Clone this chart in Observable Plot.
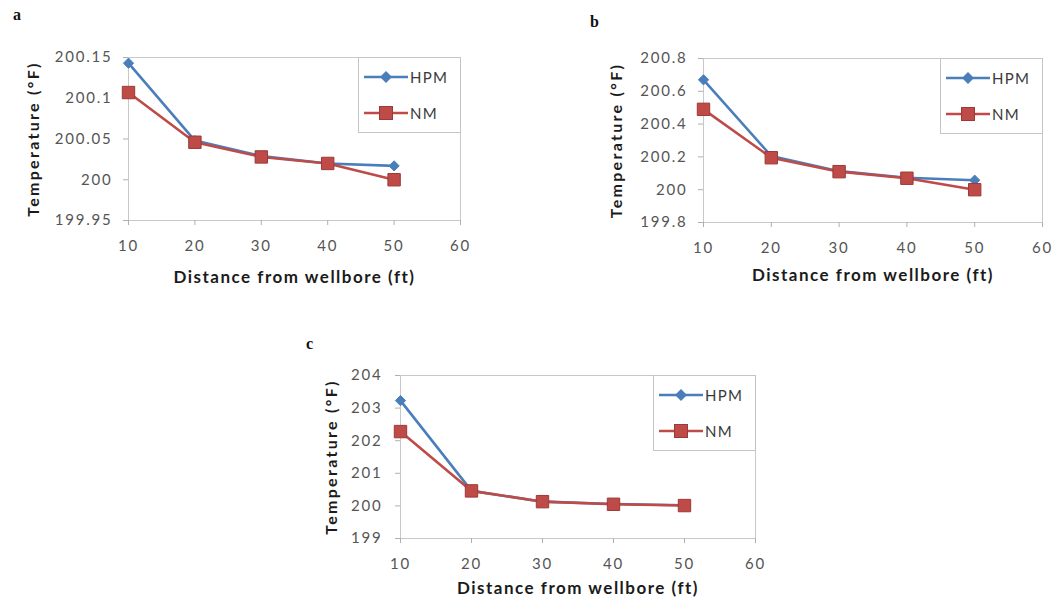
<!DOCTYPE html>
<html><head><meta charset="utf-8">
<script src="https://cdn.jsdelivr.net/npm/d3@7"></script>
<script src="https://cdn.jsdelivr.net/npm/@observablehq/plot@0.6"></script>
<style>
body{margin:0;background:#fff;}
#root{position:relative;width:1059px;height:599px;overflow:hidden;font-family:Lato,sans-serif;background:#fff;}
.panel{position:absolute;}
.letter{position:absolute;font-family:"Liberation Serif",serif;font-weight:bold;font-size:16px;color:#111;line-height:1;}
.legend{position:absolute;border:1px solid #c4c4c4;background:#fff;box-sizing:border-box;}
.legend .row{position:absolute;left:5px;display:flex;align-items:center;font-size:15px;color:#3a3a3a;letter-spacing:1.3px;line-height:1;}
.legend svg{display:block;margin-right:2px;}
</style></head><body><div id="root"></div>
<script>
// ---- data ----
const distance = [10, 20, 30, 40, 50];
const xTicks = [10, 20, 30, 40, 50, 60];
const seriesNames = ["HPM", "NM"];
const panelLetters = ["a", "b", "c"];
const xTitle = "Distance from wellbore (ft)";
const yTitle = "Temperature (°F)";

const aHPM = [200.143, 200.048, 200.029, 200.020, 200.017];
const aNM  = [200.107, 200.046, 200.028, 200.020, 200.000];
const aYTicks = [199.95, 200, 200.05, 200.1, 200.15];

const bHPM = [200.67, 200.205, 200.113, 200.073, 200.058];
const bNM  = [200.49, 200.195, 200.110, 200.070, 200.000];
const bYTicks = [199.8, 200, 200.2, 200.4, 200.6, 200.8];

const cHPM = [203.23, 200.46, 200.13, 200.06, 200.02];
const cNM  = [202.28, 200.46, 200.13, 200.05, 200.01];
const cYTicks = [199, 200, 201, 202, 203, 204];

// ---- styles / layout ----
const blue = "#4a7ebb", red = "#be4b48", redDark = "#9c3a38";
const layout = [
  {hpm: aHPM, nm: aNM, yTicks: aYTicks, left: 0,   top: 0,   width: 480, height: 300, mt: 57, mr: 20, mb: 80, ml: 128, tp: 11, yOff: 101, xOff: 62, letter: [13, 7]},
  {hpm: bHPM, nm: bNM, yTicks: bYTicks, left: 560, top: 0,   width: 499, height: 300, mt: 58, mr: 17, mb: 78, ml: 143, tp: 11, yOff: 93,  xOff: 58, letter: [590, 14]},
  {hpm: cHPM, nm: cNM, yTicks: cYTicks, left: 270, top: 300, width: 510, height: 299, mt: 75, mr: 25, mb: 61, ml: 130, tp: 13, yOff: 75,  xOff: 55, letter: [306, 336]}
];

const root = document.getElementById("root");
const fmt = d => String(+d.toFixed(3));

layout.forEach((p, i) => {
  const hpmData = distance.map((x, j) => ({x, y: p.hpm[j], s: seriesNames[0]}));
  const nmData  = distance.map((x, j) => ({x, y: p.nm[j],  s: seriesNames[1]}));
  const yDomain = [p.yTicks[0], p.yTicks[p.yTicks.length - 1]];
  const chart = Plot.plot({
    width: p.width, height: p.height,
    marginTop: p.mt, marginRight: p.mr, marginBottom: p.mb, marginLeft: p.ml,
    style: {fontFamily: "Lato, sans-serif", fontSize: "15px", color: "#555", background: "transparent", overflow: "visible", letterSpacing: "1.8px"},
    x: {domain: [10, 60]},
    y: {domain: yDomain},
    marks: [
      Plot.frame({stroke: "#c8c8c8"}),
      Plot.axisX({ticks: xTicks, tickSize: 5, tickPadding: 15, stroke: "#b0b0b0", tickFormat: fmt,
        label: xTitle, labelAnchor: "center", labelOffset: p.xOff, labelArrow: "none"}),
      Plot.axisY({ticks: p.yTicks, tickSize: 5, tickPadding: p.tp, stroke: "#b0b0b0", tickFormat: fmt,
        label: yTitle, labelAnchor: "center", labelOffset: p.yOff, labelArrow: "none"}),
      Plot.line(hpmData, {x: "x", y: "y", stroke: blue, strokeWidth: 2.6}),
      Plot.dot(hpmData, {x: "x", y: "y", symbol: "diamond2", fill: blue, stroke: blue, strokeWidth: 1, r: 4.6}),
      Plot.line(nmData, {x: "x", y: "y", stroke: red, strokeWidth: 2.6}),
      Plot.dot(nmData, {x: "x", y: "y", symbol: "square", fill: red, stroke: redDark, strokeWidth: 1, r: 7})
    ]
  });
  chart.classList.add("panel");
  chart.style.left = p.left + "px";
  chart.style.top = p.top + "px";
  root.appendChild(chart);
  // bold axis titles
  chart.querySelectorAll('[aria-label="x-axis label"]').forEach(g => {
    g.setAttribute("font-weight", "bold");
    g.setAttribute("fill", "#1b1b1b");
    g.setAttribute("font-size", "17");
    g.style.letterSpacing = "1.5px";
  });
  chart.querySelectorAll('[aria-label="y-axis label"]').forEach(g => {
    g.setAttribute("font-weight", "bold");
    g.setAttribute("fill", "#1b1b1b");
    g.setAttribute("font-size", "16");
    g.style.letterSpacing = "2.3px";
  });

  // panel letter
  const L = document.createElement("div");
  L.className = "letter";
  L.textContent = panelLetters[i];
  L.style.left = p.letter[0] + "px";
  L.style.top = p.letter[1] + "px";
  root.appendChild(L);

  // legend box at top-right of frame
  const frameRight = p.left + p.width - p.mr;
  const frameTop = p.top + p.mt;
  const lg = document.createElement("div");
  lg.className = "legend";
  lg.style.left = (frameRight - 102) + "px";
  lg.style.top = frameTop + "px";
  lg.style.width = "103px";
  lg.style.height = "76px";
  const rows = [
    {name: seriesNames[0], color: blue, marker: `<path d="M22,3 L28,9 L22,15 L16,9 Z" fill="${blue}"/>`, top: 10},
    {name: seriesNames[1], color: red, marker: `<rect x="15.5" y="2.5" width="13" height="13" fill="${red}" stroke="${redDark}"/>`, top: 46}
  ];
  rows.forEach(r => {
    const row = document.createElement("div");
    row.className = "row";
    row.style.top = r.top + "px";
    row.innerHTML = `<svg width="44" height="18"><line x1="0" y1="9" x2="44" y2="9" stroke="${r.color}" stroke-width="2.6"/>${r.marker}</svg><span>${r.name}</span>`;
    lg.appendChild(row);
  });
  root.appendChild(lg);
});
</script>
</body></html>
